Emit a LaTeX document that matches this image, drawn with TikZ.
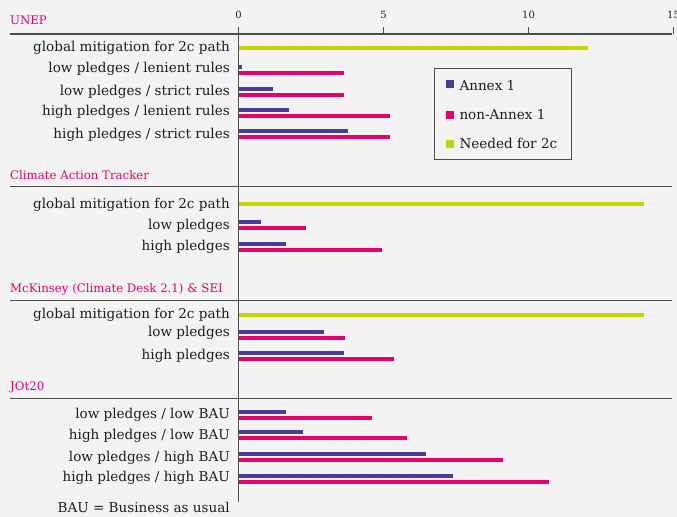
\documentclass[tikz,border=0pt]{standalone}
\usepackage{fontspec}
\setmainfont{DejaVu Serif}
\usetikzlibrary{positioning}
\definecolor{annex}{HTML}{483E96}
\definecolor{nonannex}{HTML}{E5006A}
\definecolor{needed}{HTML}{C8D400}
\definecolor{paper}{HTML}{F3F3F3}
\definecolor{rulegrey}{HTML}{4D4D4D}
\definecolor{ink}{HTML}{1E1E1E}
\newcommand{\zx}{238.5}
\newcommand{\ux}{29}

\begin{document}
\begin{tikzpicture}[x=1bp,y=-1bp,
    row/.style={anchor=east,inner sep=0pt,text=ink,text height=10.5bp,text depth=3bp,
                font=\fontsize{13.6}{16}\selectfont},
    group/.style={anchor=base west,inner sep=0pt,text=nonannex,font=\fontsize{11.8}{14}\selectfont},
    tick label/.style={inner sep=0pt,text=ink,font=\fontsize{10}{12}\selectfont},
    rule/.style={draw=rulegrey,line width=1.2bp},
    bar/.style={line width=3.8bp},
    legend box/.style={draw=rulegrey,line width=1bp,minimum width=137bp,minimum height=91bp,inner sep=0pt},
    key/.style={inner sep=0pt,minimum size=8bp},
    key text/.style={anchor=base west,inner sep=0pt,text=ink,font=\fontsize{13.6}{16}\selectfont}]

  \useasboundingbox[fill=paper] (0,0) rectangle (677,517);

  % bars: blue = Annex 1, pink = non-Annex 1
  \foreach \y/\a/\b in {67/0.11/3.64, 88.7/1.2/3.64, 110/1.73/5.22, 131/3.79/5.22,
                        222.3/0.76/2.33, 243.7/1.64/4.96,
                        332/2.95/3.68, 353/3.64/5.36,
                        411.7/1.64/4.59, 432.3/2.21/5.8, 453.7/6.48/9.13, 476/7.39/10.72} {
    \draw[bar,annex] (\zx,\y) -- ++(\a*\ux,0);
    \draw[bar,nonannex] (\zx,\y+6) -- ++(\b*\ux,0);
  }
  \foreach \y/\g in {47.7/12.06, 204.3/13.99, 314.7/13.99}
    \draw[bar,needed] (\zx,\y) -- ++(\g*\ux,0);

  % axis
  \coordinate (top) at (\zx,27);
  \coordinate (bottom) at (\zx,502);
  \draw[rule] (top) -- (bottom);
  \foreach \v in {0,5,10,15} {
    \node[tick label] (tick\v) at (\zx+\v*\ux,15) {\v};
    \draw[rule] (\zx+\v*\ux,27) -- (\zx+\v*\ux,34);
  }

  % groups
  \node[group] (unep) at (10,24.7) {UNEP};
  \node[group] (cat) at (10,180) {Climate Action Tracker};
  \node[group] (mck) at (10,292.5) {McKinsey (Climate Desk 2.1) \& SEI};
  \node[group] (jot) at (10,390) {JOt20};
  \foreach \y in {34,186.7,300.7,398.7}
    \draw[rule] (10,\y) -- (672,\y);

  \node[row] (u0) at (230,48) {global mitigation for 2c path};
  \node[row] (u1) at (230,69) {low pledges / lenient rules};
  \node[row] (u2) at (230,91.7) {low pledges / strict rules};
  \node[row] (u3) at (230,111.7) {high pledges / lenient rules};
  \node[row] (u4) at (230,135) {high pledges / strict rules};

  \node[row] (c0) at (230,204.3) {global mitigation for 2c path};
  \node[row] (c1) at (230,225.7) {low pledges};
  \node[row] (c2) at (230,246.7) {high pledges};

  \node[row] (m0) at (230,315) {global mitigation for 2c path};
  \node[row] (m1) at (230,332.7) {low pledges};
  \node[row] (m2) at (230,356) {high pledges};

  \node[row] (j0) at (230,414.3) {low pledges / low BAU};
  \node[row] (j1) at (230,435.7) {high pledges / low BAU};
  \node[row] (j2) at (230,457.7) {low pledges / high BAU};
  \node[row] (j3) at (230,477.7) {high pledges / high BAU};

  \node[row] (note) at (230,509) {BAU = Business as usual};

  % legend
  \node[legend box] (legend) at (502.9,114.2) {};
  \node[key,fill=annex] (k1) at (450,84) {};
  \node[key text] (l1) at (459.3,90.5) {Annex 1};
  \node[key,fill=nonannex] (k2) at (450,115) {};
  \node[key text] (l2) at (459.3,119.8) {non-Annex 1};
  \node[key,fill=needed] (k3) at (450,144.5) {};
  \node[key text] (l3) at (459.3,148.5) {Needed for 2c};
\end{tikzpicture}
\end{document}
